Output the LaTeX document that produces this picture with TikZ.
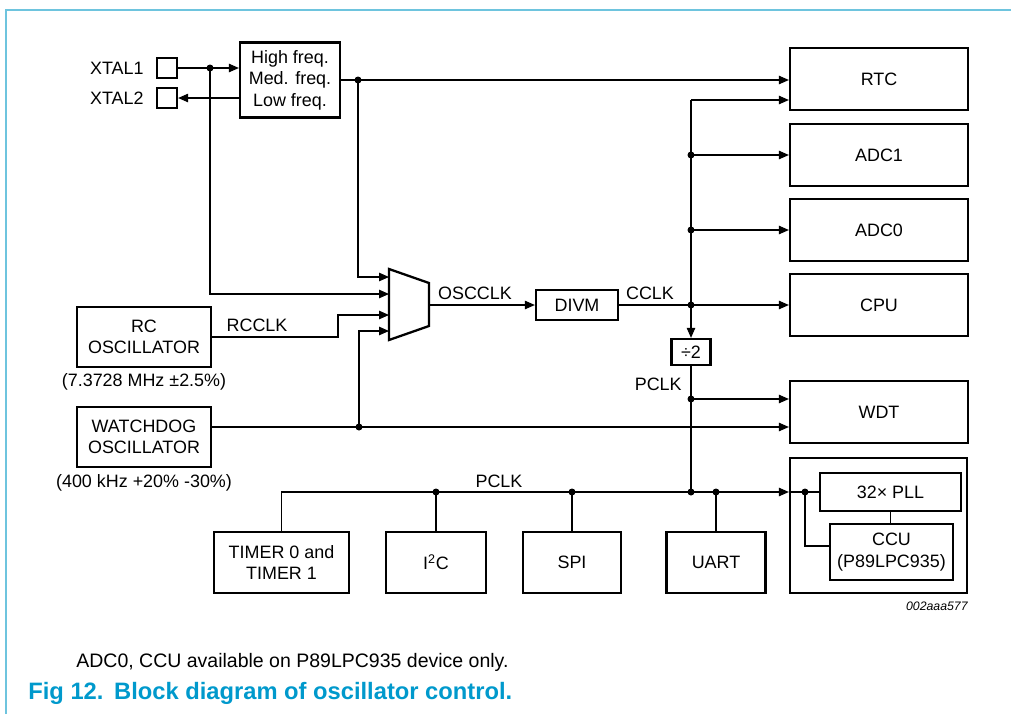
\documentclass[tikz,border=0pt]{standalone}
\usepackage{fontspec}
\setmainfont{Liberation Sans}
\usepackage{xcolor}
\usetikzlibrary{arrows.meta,positioning,calc}
\definecolor{framecol}{RGB}{110,196,222}
\definecolor{figcol}{RGB}{0,153,204}

\begin{document}
\begin{tikzpicture}[x=0.02cm,y=-0.02cm,>={Triangle[length=0.2cm,width=0.17cm]},
  font=\fontsize{10.2}{12.2}\selectfont,
  box/.style={draw,line width=1.3pt,align=center,inner sep=0pt},
  blk/.style={box,minimum width=3.56cm,minimum height=1.24cm},
  periph/.style={box,minimum height=1.22cm},
  wire/.style={line width=0.6pt},
  dot/.style={circle,fill,inner sep=0pt,minimum size=0.14cm},
  lbl/.style={inner sep=0pt}]
  \useasboundingbox (0,0) rectangle (1011,714);
  \draw[framecol,line width=1.2pt] (6,714) -- (6,10) -- (1011,10);

  % crystal pins and oscillators
  \node[box,minimum size=0.4cm] (xtal1) at (167,68) {};
  \node[box,minimum size=0.4cm] (xtal2) at (167,98) {};
  \node[lbl,left=0.24cm of xtal1] (xtal1lbl) {XTAL1};
  \node[lbl,left=0.24cm of xtal2] (xtal2lbl) {XTAL2};
  \node[box,minimum width=2cm,minimum height=1.5cm] (freq) at (290,80) {High freq.\\Med. freq.\\Low freq.};
  \node[box,minimum width=2.68cm,minimum height=1.2cm] (rc) at (144,337) {RC\\OSCILLATOR};
  \node[lbl] (rcnote) at (144,382) {(7.3728 MHz ±2.5\%)};
  \node[box,minimum width=2.68cm,minimum height=1.2cm] (wd) at (144,437) {WATCHDOG\\OSCILLATOR};
  \node[lbl] (wdnote) at (144,483) {(400 kHz +20\% -30\%)};

  % clock select
  \draw[line width=1.3pt] (389,269) -- (429,283) -- (429,326) -- (389,340) -- cycle;
  \coordinate (muxa) at (389,277);
  \coordinate (muxb) at (389,294);
  \coordinate (muxc) at (389,315);
  \coordinate (muxd) at (389,331);
  \coordinate (muxout) at (429,305);
  \node[box,minimum width=1.64cm,minimum height=0.6cm] (divm) at (577,305) {DIVM};
  \node[box,minimum width=0.78cm,minimum height=0.52cm] (div2) at (691,352) {÷2};

  % clocked blocks
  \node[blk] (rtc) at (879,79) {RTC};
  \node[blk] (adc1) at (879,155) {ADC1};
  \node[blk] (adc0) at (879,230) {ADC0};
  \node[blk] (cpu) at (879,305) {CPU};
  \node[blk] (wdt) at (879,412) {WDT};
  \node[box,minimum width=3.54cm,minimum height=2.7cm] (grp) at (878.5,525.5) {};
  \node[box,minimum width=2.82cm,minimum height=0.76cm] (pll) at (890.5,492) {32× PLL};
  \node[box,minimum width=2.46cm,minimum height=1.12cm] (ccu) at (891.5,552) {CCU\\(P89LPC935)};
  \node[periph,minimum width=2.7cm] (timer) at (281.5,562.5) {TIMER 0 and\\TIMER 1};
  \node[periph,minimum width=2cm] (i2c) at (436,562.5) {I\textsuperscript{2}C};
  \node[periph,minimum width=1.96cm] (spi) at (572,562.5) {SPI};
  \node[periph,minimum width=1.98cm] (uart) at (716,562.5) {UART};

  % junctions
  \node[dot] (j1) at (210,68) {};
  \node[dot] (j2) at (358,80) {};
  \node[dot] (j3) at (359,427) {};
  \node[dot] (j4) at (691,305) {};
  \node[dot] (j5) at (691,155) {};
  \node[dot] (j6) at (691,230) {};
  \node[dot] (j7) at (691,399) {};
  \node[dot] (j8) at (691,492) {};
  \node[dot] (j9) at (436,492) {};
  \node[dot] (j10) at (572,492) {};
  \node[dot] (j11) at (716,492) {};
  \node[dot] (j12) at (805,492) {};
  \coordinate (ctop) at (691,100);
  \coordinate (rcbend) at (338,315);

  % connections
  \draw[wire,->] (xtal1.east) -- (xtal1.east -| freq.west);
  \draw[wire,->] (freq.west |- xtal2) -- (xtal2.east);
  \draw[wire,->] (j1.center) |- (muxb);
  \draw[wire,->] (freq.east) -- (freq.east -| rtc.west);
  \draw[wire,->] (j2.center) |- (muxa);
  \draw[wire,->] (rc.east) -| (rcbend) -- (muxc);
  \draw[wire,->] (wd.east |- j3) -- (j3 -| wdt.west);
  \draw[wire,->] (j3.center) |- (muxd);
  \draw[wire,->] (muxout) -- (divm.west);
  \draw[wire,->] (divm.east) -- (cpu.west);
  \draw[wire,->] (ctop) -- (ctop -| rtc.west);
  \draw[wire,->] (ctop) -- (j4.center) -- (div2.north);
  \draw[wire,->] (j5.center) -- (j5 -| adc1.west);
  \draw[wire,->] (j6.center) -- (j6 -| adc0.west);
  \draw[wire,->] (j7.center) -- (j7 -| wdt.west);
  \draw[wire] (div2.south) -- (j8.center);
  \draw[wire,->] (timer.north) |- (j8 -| grp.west);
  \draw[wire] (j9.center) -- (i2c.north);
  \draw[wire] (j10.center) -- (spi.north);
  \draw[wire] (j11.center) -- (uart.north);
  \draw[wire] (j8 -| grp.west) -- (pll.west);
  \draw[wire] (j12.center) |- ([yshift=0.12cm]ccu.west);
  \draw[wire] (pll.south) -- (pll.south |- ccu.north);

  % signal names
  \node[lbl] (rcclk) at (257,325) {RCCLK};
  \node[lbl] (oscclk) at (475,293) {OSCCLK};
  \node[lbl] (cclk) at (650,293) {CCLK};
  \node[lbl,anchor=east] (pclka) at (682,384) {PCLK};
  \node[lbl] (pclkb) at (499,481) {PCLK};
  \node[lbl,anchor=east,font=\fontsize{7}{8}\selectfont\itshape] (figid) at (968,606) {002aaa577};

  % notes
  \node[lbl,anchor=base west,font=\fontsize{11.1}{13}\selectfont] (note) at (76,667) {ADC0, CCU available on P89LPC935 device only.};
  \node[lbl,anchor=base west,font=\fontsize{13.5}{15}\selectfont\bfseries,text=figcol] (cap) at (28,699) {Fig 12.\hspace{0.45em}Block diagram of oscillator control.};
\end{tikzpicture}
\end{document}
